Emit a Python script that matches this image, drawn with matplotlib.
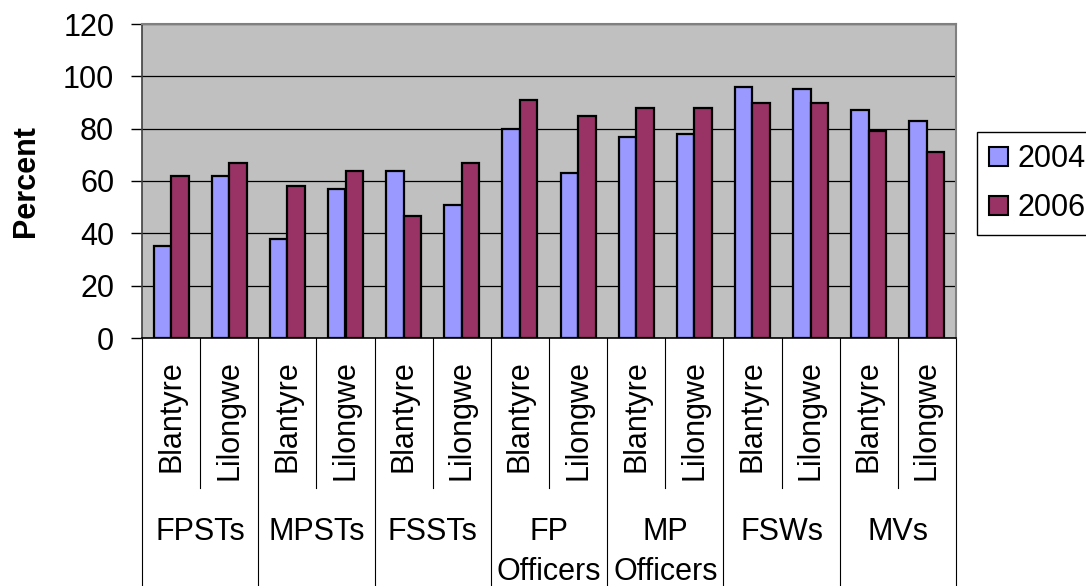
import matplotlib
matplotlib.use('Agg')
import matplotlib.pyplot as plt
from matplotlib.patches import Patch
import numpy as np

plt.rcParams['font.family'] = ['Liberation Sans', 'DejaVu Sans']

groups = ['FPSTs', 'MPSTs', 'FSSTs', 'FP\nOfficers', 'MP\nOfficers', 'FSWs', 'MVs']
sites = ['Blantyre', 'Lilongwe']
pct_2004 = [35, 62, 38, 57, 64, 51, 80, 63, 77, 78, 96, 95, 87, 83]
pct_2006 = [62, 67, 58, 64, 46.5, 67, 91, 85, 88, 88, 90, 90, 79, 71]

c2004 = '#9999FF'
c2006 = '#993366'

W, H = 1086, 586
fig = plt.figure(figsize=(W / 100, H / 100), dpi=100)
ax = fig.add_axes([142 / W, 1 - 338 / H, (956 - 142) / W, (338 - 24) / H])
ax.set_facecolor('#C0C0C0')

ind = np.arange(len(pct_2004))
bw = 0.3
ax.bar(ind - bw / 2, pct_2004, bw, color=c2004, edgecolor='black', linewidth=1.6, zorder=3)
ax.bar(ind + bw / 2, pct_2006, bw, color=c2006, edgecolor='black', linewidth=1.6, zorder=3)

ax.set_xlim(-0.5, len(ind) - 0.5)
ax.set_ylim(0, 120)
ax.set_yticks(np.arange(0, 121, 20))
ax.tick_params(axis='y', labelsize=22, length=8, width=1, pad=12, color='black')
ax.set_xticks([])
ax.yaxis.grid(True, color='black', linewidth=0.9, zorder=1)
ax.set_axisbelow(True)
ax.set_ylabel('Percent', fontsize=22, fontweight='bold', labelpad=16)

for side in ['top', 'right']:
    ax.spines[side].set_color('#808080')
    ax.spines[side].set_linewidth(1.5)
ax.spines['left'].set_color('#404040')
ax.spines['left'].set_linewidth(1.2)
ax.spines['bottom'].set_color('black')
ax.spines['bottom'].set_linewidth(1.2)

# two-level category axis below the plot
tr = ax.get_xaxis_transform()
for i in range(len(ind)):
    ax.text(i, -0.07, sites[i % 2], rotation=90, ha='center', va='top',
            fontsize=22, transform=tr)
for b in range(len(ind) + 1):
    y_end = -1.0 if b % 2 == 0 else -0.478
    ax.plot([b - 0.5, b - 0.5], [0, y_end], color='black', linewidth=0.8,
            transform=tr, clip_on=False)
for g, name in enumerate(groups):
    ax.text(2 * g + 0.5, -0.57, name, ha='center', va='top', fontsize=22,
            linespacing=1.45, transform=tr)

handles = [Patch(facecolor=c2004, edgecolor='black', linewidth=1.5),
           Patch(facecolor=c2006, edgecolor='black', linewidth=1.5)]
leg = fig.legend(handles, ['2004', '2006'], loc='upper left',
                 bbox_to_anchor=(977 / W, 1 - 132 / H), borderaxespad=0,
                 fontsize=22, handlelength=0.62, handleheight=0.62,
                 handletextpad=0.3, labelspacing=0.62, borderpad=0.4,
                 fancybox=False, framealpha=1, edgecolor='black')
leg.get_frame().set_linewidth(1.0)

fig.savefig('out.png', dpi=100)
